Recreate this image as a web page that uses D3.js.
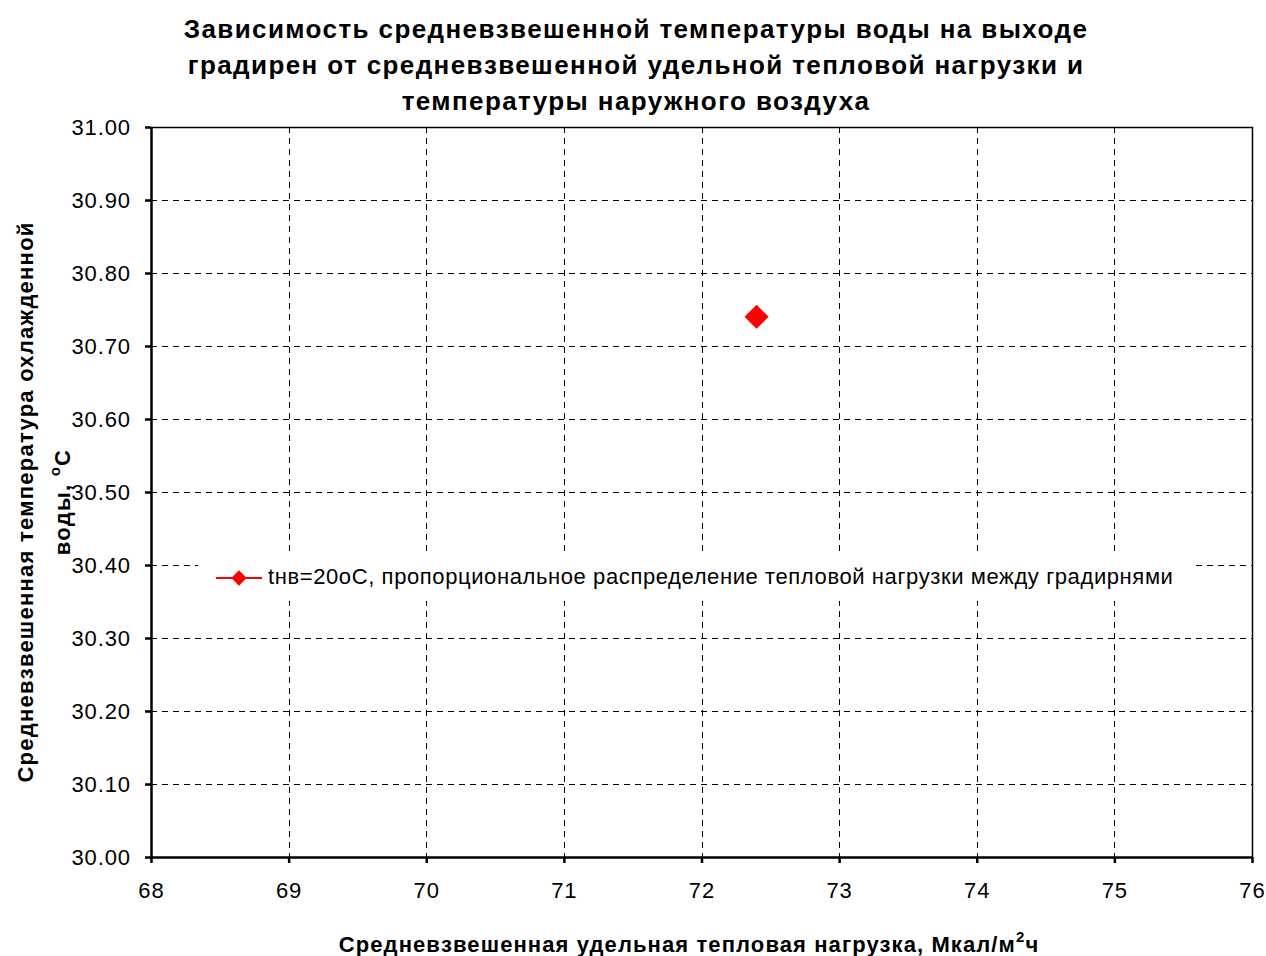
<!DOCTYPE html>
<html>
<head>
<meta charset="utf-8">
<script src="https://cdn.jsdelivr.net/npm/d3@7"></script>
<style>
  html, body { margin: 0; padding: 0; background: #fff; }
  svg { display: block; font-family: "Liberation Sans", Arial, sans-serif; }
</style>
</head>
<body>
<svg id="chart" width="1266" height="956"></svg>
<script>
// Chart content
const titleLines = [
  "Зависимость средневзвешенной температуры воды на выходе",
  "градирен от средневзвешенной удельной тепловой нагрузки и",
  "температуры наружного воздуха"
];
const seriesName = "tнв=20oC, пропорциональное распределение тепловой нагрузки между градирнями";
const loadValues = [72.4];     // средневзвешенная удельная тепловая нагрузка, Мкал/м²ч
const tempValues = [30.74];    // температура охлажденной воды, °C
const xTicks = [68, 69, 70, 71, 72, 73, 74, 75, 76];
const yTicks = [30.0, 30.1, 30.2, 30.3, 30.4, 30.5, 30.6, 30.7, 30.8, 30.9, 31.0];

const svg = d3.select("#chart");
const plot = { left: 151, right: 1252, top: 127, bottom: 857 };

const x = d3.scaleLinear().domain([68, 76]).range([plot.left, plot.right]);
const y = d3.scaleLinear().domain([30, 31]).range([plot.bottom, plot.top]);

// Title
svg.append("g").selectAll("text").data(titleLines).join("text")
  .attr("x", 636).attr("y", (d, i) => 38 + i * 36)
  .attr("text-anchor", "middle")
  .attr("font-size", 26).attr("font-weight", "bold")
  .attr("letter-spacing", 1.4)
  .text(d => d);

// Dashed grid
const grid = svg.append("g").attr("stroke", "#000").attr("stroke-width", 1)
  .attr("stroke-dasharray", "6,5").attr("shape-rendering", "crispEdges");
grid.selectAll("line.h").data(yTicks.slice(1, -1)).join("line")
  .attr("x1", plot.left).attr("x2", plot.right)
  .attr("y1", d => Math.round(y(d)) + 0.5).attr("y2", d => Math.round(y(d)) + 0.5);
grid.selectAll("line.v").data(xTicks.slice(1, -1)).join("line")
  .attr("y1", plot.top).attr("y2", plot.bottom)
  .attr("x1", d => Math.round(x(d)) + 0.5).attr("x2", d => Math.round(x(d)) + 0.5);

// Top and right frame
svg.append("path")
  .attr("d", `M${plot.left},${plot.top + 0.5}H${plot.right + 0.5}V${plot.bottom}`)
  .attr("fill", "none").attr("stroke", "#000").attr("stroke-width", 1.5);

// Axes
const xAxis = d3.axisBottom(x).tickValues(xTicks).tickFormat(d3.format("d"))
  .tickSize(6).tickPadding(19).tickSizeOuter(0);
const yAxis = d3.axisLeft(y).tickValues(yTicks).tickFormat(d3.format(".2f"))
  .tickSize(6).tickPadding(14).tickSizeOuter(0);

const gx = svg.append("g").attr("transform", `translate(0,${plot.bottom})`).call(xAxis);
const gy = svg.append("g").attr("transform", `translate(${plot.left},0)`).call(yAxis);
[gx, gy].forEach(g => {
  g.select(".domain").attr("stroke", "#000").attr("stroke-width", 2.5);
  g.selectAll(".tick line").attr("stroke", "#000").attr("stroke-width", 2.5);
  g.selectAll(".tick text").attr("fill", "#000").attr("font-size", 22)
    .attr("letter-spacing", 0.9)
    .attr("font-family", "Liberation Sans, Arial, sans-serif");
});
gy.selectAll(".tick text").attr("dy", "0.35em");

// Axis titles
const xTitle = svg.append("text")
  .attr("x", 689).attr("y", 952).attr("text-anchor", "middle")
  .attr("font-size", 22).attr("font-weight", "bold").attr("letter-spacing", 1.1);
xTitle.append("tspan").text("Средневзвешенная удельная тепловая нагрузка, Мкал/м");
xTitle.append("tspan").attr("font-size", 15).attr("dy", -10).text("2");
xTitle.append("tspan").attr("dy", 10).text("ч");

const yTitle = svg.append("text")
  .attr("transform", "translate(33,502) rotate(-90)")
  .attr("text-anchor", "middle")
  .attr("font-size", 22).attr("font-weight", "bold").attr("letter-spacing", 1.25);
yTitle.append("tspan").attr("x", 0).attr("y", 0)
  .text("Средневзвешенная температура охлажденной");
yTitle.append("tspan").attr("x", 0).attr("y", 37).text("воды, ");
yTitle.append("tspan").attr("font-size", 15).attr("dy", -10).text("o");
yTitle.append("tspan").attr("dy", 10).text("C");

// Data points
const diamond = d3.symbol().type(d3.symbolDiamond2).size(370);
svg.append("g").selectAll("path").data(loadValues.map((v, i) => [v, tempValues[i]])).join("path")
  .attr("transform", d => `translate(${x(d[0])},${y(d[1])})`)
  .attr("d", diamond).attr("fill", "#ff0000");

// Legend
const legend = svg.append("g").attr("transform", "translate(198,553)");
legend.append("rect").attr("width", 995).attr("height", 48).attr("fill", "#fff");
legend.append("line").attr("x1", 18).attr("x2", 64).attr("y1", 25).attr("y2", 25)
  .attr("stroke", "#ff0000").attr("stroke-width", 2);
legend.append("path").attr("transform", "translate(41,25)")
  .attr("d", d3.symbol().type(d3.symbolDiamond2).size(150)).attr("fill", "#ff0000");
legend.append("text").attr("x", 70).attr("y", 31).attr("font-size", 22)
  .attr("letter-spacing", 0.6).text(seriesName);
</script>
</body>
</html>
